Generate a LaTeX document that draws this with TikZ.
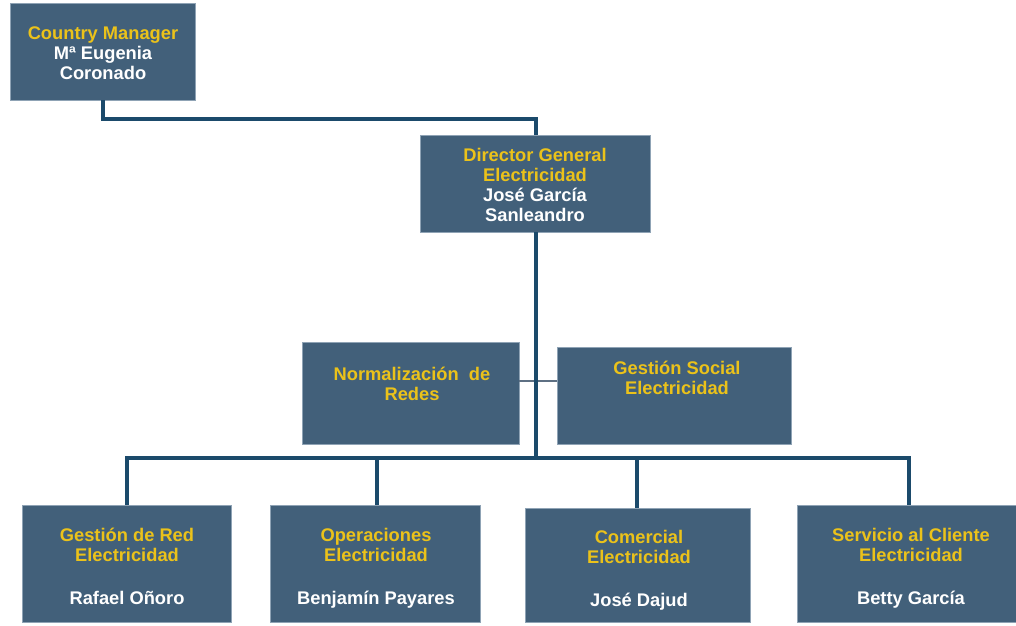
\documentclass[tikz,border=0pt]{standalone}
\usepackage{fontspec}
\setmainfont{Liberation Sans}
\definecolor{boxfill}{HTML}{42607A}
\definecolor{boxedge}{HTML}{8FA3B5}
\definecolor{linkblue}{HTML}{1B4A6B}
\definecolor{linkgray}{HTML}{5E7083}
\definecolor{titleyellow}{HTML}{EBC21A}
\tikzset{
  orgbox/.style={rectangle, fill=boxfill, draw=boxedge, line width=0.6pt, inner sep=0pt},
  orgtext/.style={align=center, font=\fontsize{18.3}{20}\selectfont\bfseries, inner sep=0pt, text=white},
  nametext/.style={orgtext, anchor=base},
  ttl/.style={text=titleyellow},
  link/.style={draw=linkblue, line width=3.4pt},
  sidelink/.style={draw=linkgray, line width=2pt}
}
\begin{document}
\begin{tikzpicture}[x=1pt,y=-1pt]
\useasboundingbox (0,0) rectangle (1016,625);

% boxes
\node[orgbox, minimum width=185pt, minimum height=97pt] (cm)  at (102.5,51.5) {};
\node[orgbox, minimum width=230pt, minimum height=97pt] (dir) at (535,183.5) {};
\node[orgbox, minimum width=217pt, minimum height=102pt] (norm) at (410.5,393) {};
\node[orgbox, minimum width=234pt, minimum height=97pt] (soc) at (674,395.5) {};
\node[orgbox, minimum width=209pt, minimum height=117pt] (red) at (126.5,563.5) {};
\node[orgbox, minimum width=210pt, minimum height=117pt] (ope) at (375,563.5) {};
\node[orgbox, minimum width=225pt, minimum height=114pt] (com) at (637.5,565) {};
\node[orgbox, minimum width=219pt, minimum height=117pt] (ser) at (906.5,563.5) {};

% connectors
\draw[sidelink] (norm.east |- 0,381) -- (soc.west |- 0,381);
\coordinate (busL) at (127,458);
\coordinate (busR) at (909,458);
\draw[link] (cm.south -| 103,0) -- (103,119) -| (dir.north -| 536,0);
\draw[link] (dir.south -| 536,0) -- (536,458);
\draw[link, line cap=rect] (busL) -- (busR);
\draw[link] (busL) -- (red.north -| busL);
\draw[link] (377,458) -- (ope.north -| 377,0);
\draw[link] (637,458) -- (com.north -| 637,0);
\draw[link] (busR) -- (ser.north -| busR);

% texts
\node[orgtext] (tcm) at (103,53) {\textcolor{titleyellow}{Country Manager}\\Mª Eugenia\\Coronado};
\node[orgtext] (tdir) at (535,185) {\textcolor{titleyellow}{Director General}\\\textcolor{titleyellow}{Electricidad}\\José García\\Sanleandro};
\node[orgtext, ttl] (tnorm) at (412,384) {Normalización\ \ de\\Redes};
\node[orgtext, ttl] (tsoc) at (677,377.5) {Gestión Social\\Electricidad};
\node[orgtext, ttl] (tred) at (127,545) {Gestión de Red\\Electricidad};
\node[nametext] (nred) at (127,604.5) {Rafael Oñoro};
\node[orgtext, ttl] (tope) at (376,545) {Operaciones\\Electricidad};
\node[nametext] (nope) at (376,604.5) {Benjamín Payares};
\node[orgtext, ttl] (tcom) at (639,547) {Comercial\\Electricidad};
\node[nametext] (ncom) at (639,606.5) {José Dajud};
\node[orgtext, ttl] (tser) at (911,545) {Servicio al Cliente\\Electricidad};
\node[nametext] (nser) at (911,604.5) {Betty García};
\end{tikzpicture}
\end{document}
